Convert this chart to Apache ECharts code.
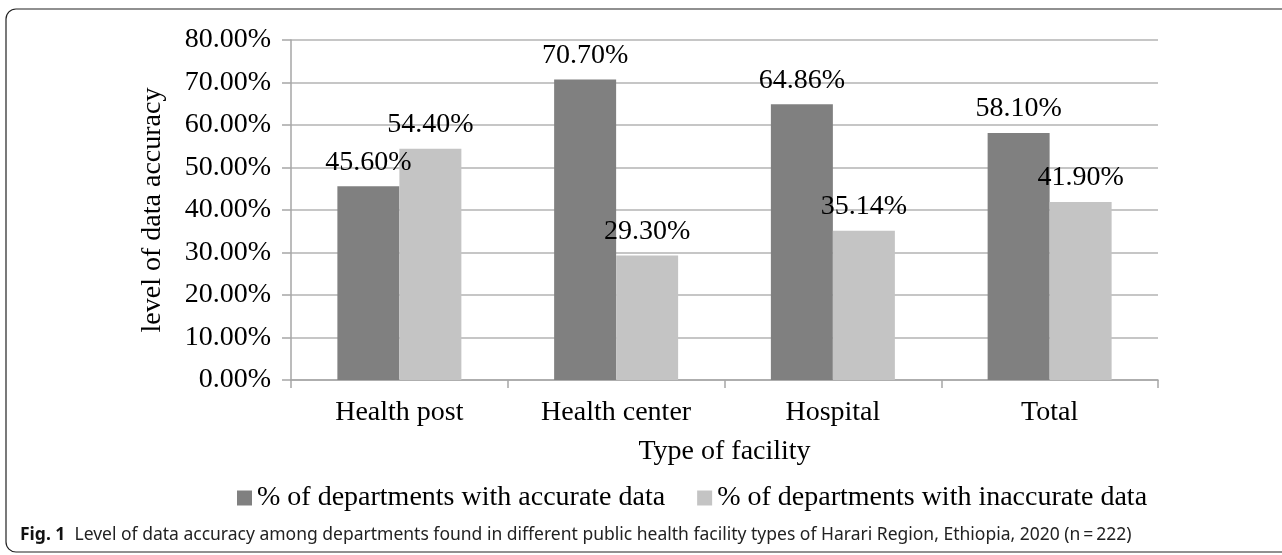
<!DOCTYPE html>
<html>
<head>
<meta charset="utf-8">
<script src="https://cdn.jsdelivr.net/npm/echarts@6/dist/echarts.min.js"></script>
<style>
  html, body { margin: 0; padding: 0; background: #fff; }
  #ch1 { width: 1282px; height: 555px; }
</style>
</head>
<body>
<div id="ch1"></div>
<script>
var categories = ['Health post', 'Health center', 'Hospital', 'Total'];
var accurate = [45.60, 70.70, 64.86, 58.10];
var inaccurate = [54.40, 29.30, 35.14, 41.90];
var seriesNames = ['% of departments with accurate data', '% of departments with inaccurate data'];
var yTicks = { min: 0, max: 80, interval: 10 };
var caption = 'Level of data accuracy among departments found in different public health facility types of Harari Region, Ethiopia, 2020 (n\u2009=\u2009222)';

window.onload = function() {
  var ch1 = echarts.init(document.getElementById('ch1'));
  var serif = '"Liberation Serif", "Times New Roman", serif';
  var pct = function(v) { return Number(v).toFixed(2) + '%'; };

  var op1 = {
    animation: false,
    textStyle: { fontFamily: serif, color: '#000' },
    grid: {
      left: 291,
      right: 124,
      top: 40,
      bottom: 175
    },
    legend: {
      top: 484,
      left: 237,
      padding: 0,
      itemWidth: 15,
      itemHeight: 15,
      itemGap: 32,
      icon: 'rect',
      textStyle: { fontFamily: serif, fontSize: 28, color: '#000' },
      data: seriesNames
    },
    xAxis: {
      type: 'category',
      data: categories,
      name: 'Type of facility',
      nameLocation: 'middle',
      nameGap: 58,
      nameTextStyle: { fontFamily: serif, fontSize: 28, color: '#000' },
      axisLine: { lineStyle: { color: '#a6a6a6', width: 1.5 } },
      axisTick: { show: true, length: 8, lineStyle: { color: '#a6a6a6', width: 1.5 } },
      axisLabel: { fontFamily: serif, fontSize: 28, color: '#000', margin: 19 }
    },
    yAxis: {
      type: 'value',
      min: yTicks.min,
      max: yTicks.max,
      interval: yTicks.interval,
      name: 'level of data accuracy',
      nameLocation: 'middle',
      nameGap: 124,
      nameTextStyle: { fontFamily: serif, fontSize: 28, color: '#000' },
      axisLine: { show: true, lineStyle: { color: '#a6a6a6', width: 1.5 } },
      axisTick: { show: true, length: 9, lineStyle: { color: '#a6a6a6', width: 1.5 } },
      splitLine: { lineStyle: { color: '#b3b3b3', width: 1.5 } },
      axisLabel: { fontFamily: serif, fontSize: 28, color: '#000', margin: 20, formatter: pct }
    },
    series: [{
      name: seriesNames[0],
      type: 'bar',
      data: accurate,
      barWidth: 62,
      barGap: '0%',
      itemStyle: { color: '#808080' },
      label: {
        show: true,
        position: 'top',
        distance: 10,
        fontFamily: serif,
        fontSize: 28,
        color: '#000',
        formatter: function(p) { return pct(p.value); }
      }
    }, {
      name: seriesNames[1],
      type: 'bar',
      data: inaccurate,
      barWidth: 62,
      barGap: '0%',
      itemStyle: { color: '#c4c4c4' },
      label: {
        show: true,
        position: 'top',
        distance: 10,
        fontFamily: serif,
        fontSize: 28,
        color: '#000',
        formatter: function(p) { return pct(p.value); }
      }
    }],
    graphic: [{
      type: 'rect',
      shape: { x: 6, y: 9, width: 1300, height: 543, r: 10 },
      style: { fill: 'none', stroke: '#222', lineWidth: 1.2 },
      silent: true
    }, {
      type: 'text',
      left: 20,
      top: 526,
      style: {
        text: '{b|Fig. 1}  ' + caption,
        rich: {
          b: { fontFamily: '"Noto Sans", sans-serif', fontWeight: 'bold', fontSize: 17.5, fill: '#111' }
        },
        fontFamily: '"Noto Sans", sans-serif',
        fontSize: 17.5,
        fill: '#222'
      }
    }]
  };

  ch1.setOption(op1);
};
</script>
</body>
</html>
